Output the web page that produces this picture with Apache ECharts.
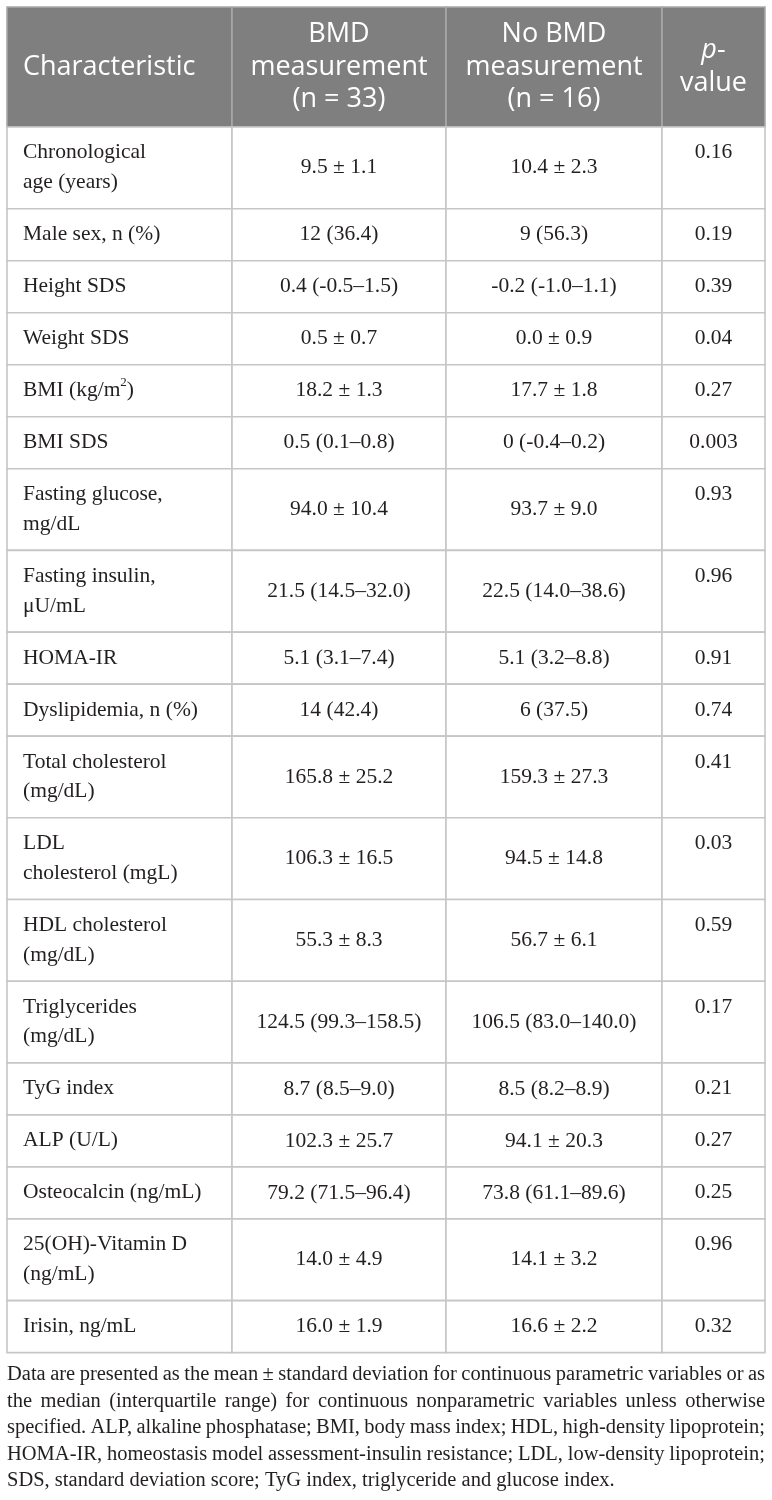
<!DOCTYPE html>
<html>
<head>
<meta charset="utf-8">
<script src="https://cdn.jsdelivr.net/npm/echarts@6/dist/echarts.min.js"></script>
<style>
html,body{margin:0;padding:0;background:#ffffff;}
#chart{width:772px;height:1500px;}
</style>
</head>
<body>
<div id="chart"></div>
<script>
// ---------- DATA ----------
const headers = ["Characteristic", "BMD\nmeasurement\n(n = 33)", "No BMD\nmeasurement\n(n = 16)", "{i|p}-\nvalue"];
const characteristics = [
  "Chronological\nage (years)",
  "Male sex, n (%)",
  "Height SDS",
  "Weight SDS",
  "BMI (kg/m{sup|2})",
  "BMI SDS",
  "Fasting glucose,\nmg/dL",
  "Fasting insulin,\nμU/mL",
  "HOMA-IR",
  "Dyslipidemia, n (%)",
  "Total cholesterol\n(mg/dL)",
  "LDL\ncholesterol (mgL)",
  "HDL cholesterol\n(mg/dL)",
  "Triglycerides\n(mg/dL)",
  "TyG index",
  "ALP (U/L)",
  "Osteocalcin (ng/mL)",
  "25(OH)-Vitamin D\n(ng/mL)",
  "Irisin, ng/mL"
];
const bmdValues = [
  "9.5 ± 1.1", "12 (36.4)", "0.4 (-0.5–1.5)", "0.5 ± 0.7", "18.2 ± 1.3", "0.5 (0.1–0.8)",
  "94.0 ± 10.4", "21.5 (14.5–32.0)", "5.1 (3.1–7.4)", "14 (42.4)", "165.8 ± 25.2",
  "106.3 ± 16.5", "55.3 ± 8.3", "124.5 (99.3–158.5)", "8.7 (8.5–9.0)", "102.3 ± 25.7",
  "79.2 (71.5–96.4)", "14.0 ± 4.9", "16.0 ± 1.9"
];
const noBmdValues = [
  "10.4 ± 2.3", "9 (56.3)", "-0.2 (-1.0–1.1)", "0.0 ± 0.9", "17.7 ± 1.8", "0 (-0.4–0.2)",
  "93.7 ± 9.0", "22.5 (14.0–38.6)", "5.1 (3.2–8.8)", "6 (37.5)", "159.3 ± 27.3",
  "94.5 ± 14.8", "56.7 ± 6.1", "106.5 (83.0–140.0)", "8.5 (8.2–8.9)", "94.1 ± 20.3",
  "73.8 (61.1–89.6)", "14.1 ± 3.2", "16.6 ± 2.2"
];
const pValues = [
  "0.16", "0.19", "0.39", "0.04", "0.27", "0.003", "0.93", "0.96", "0.91", "0.74",
  "0.41", "0.03", "0.59", "0.17", "0.21", "0.27", "0.25", "0.96", "0.32"
];
const footnoteLines = [
  "Data are presented as the mean ± standard deviation for continuous parametric variables or as",
  "the median (interquartile range) for continuous nonparametric variables unless otherwise",
  "specified. ALP, alkaline phosphatase; BMI, body mass index; HDL, high-density lipoprotein;",
  "HOMA-IR, homeostasis model assessment-insulin resistance; LDL, low-density lipoprotein;",
  "SDS, standard deviation score; TyG index, triglyceride and glucose index."
];

// ---------- LAYOUT / STYLE ----------
const TABLE_W = 758;
const colEdges = [0, 225, 439, 655, TABLE_W];
const HEADER_H = 120;
const ROW_PAD = 22.3;
const LINE_H = 29.7;
const HEAD_LINE_H = 32.5;
const HEAD_BG = '#7f7f7f';
const HEAD_STROKE = '#a9a9a9';
const BORDER = '#c6c6c6';
const TEXT = '#231f20';
const SERIF = '"Liberation Serif", "Times New Roman", serif';
const SANS = '"Open Sans", "Noto Sans", sans-serif';
const BODY_SIZE = 21.5;
const HEAD_SIZE = 27;

const columns = [characteristics, bmdValues, noBmdValues, pValues];
const rowEdges = [0, HEADER_H];
characteristics.forEach(function (t) {
  const n = t.split('\n').length;
  rowEdges.push(rowEdges[rowEdges.length - 1] + ROW_PAD + LINE_H * n);
});
const TABLE_H = rowEdges[rowEdges.length - 1];

const cells = [];
for (let r = 0; r <= characteristics.length; r++) {
  for (let c = 0; c < 4; c++) cells.push([c, r]);
}

function cellText(r, c) {
  return r === 0 ? headers[c] : columns[c][r - 1];
}

function renderItem(params, api) {
  const c = api.value(0), r = api.value(1);
  const p0 = api.coord([colEdges[c], rowEdges[r]]);
  const p1 = api.coord([colEdges[c + 1], rowEdges[r + 1]]);
  const x0 = p0[0], y0 = p0[1], w = p1[0] - p0[0], h = p1[1] - p0[1];
  const head = r === 0;
  const txt = cellText(r, c);
  let tx, ty, align, va, style;
  if (head) {
    tx = c === 0 ? x0 + 16 : x0 + w / 2;
    ty = y0 + h / 2;
    align = c === 0 ? 'left' : 'center';
    va = 'middle';
    style = {
      text: txt, fill: '#ffffff', fontFamily: SANS, fontSize: HEAD_SIZE,
      lineHeight: HEAD_LINE_H, align: align, verticalAlign: va,
      rich: { i: { fontStyle: 'italic', fontFamily: SANS, fontSize: HEAD_SIZE, lineHeight: HEAD_LINE_H, fill: '#ffffff' } }
    };
  } else {
    if (c === 0) { tx = x0 + 16; ty = y0 + 11; align = 'left'; va = 'top'; }
    else if (c === 3) { tx = x0 + w / 2; ty = y0 + 11; align = 'center'; va = 'top'; }
    else { tx = x0 + w / 2; ty = y0 + h / 2; align = 'center'; va = 'middle'; }
    style = {
      text: txt, fill: TEXT, fontFamily: SERIF, fontSize: BODY_SIZE,
      lineHeight: LINE_H, align: align, verticalAlign: va,
      rich: { sup: { fontFamily: SERIF, fontSize: 13, verticalAlign: 'top', padding: [0, 0, 10, 0], lineHeight: LINE_H, fill: TEXT } }
    };
  }
  return {
    type: 'group',
    children: [
      { type: 'rect', shape: { x: x0, y: y0, width: w, height: h },
        style: { fill: head ? HEAD_BG : '#ffffff', stroke: head ? HEAD_STROKE : BORDER, lineWidth: 1.6 } },
      { type: 'text', x: tx, y: ty, style: style }
    ]
  };
}

// ---------- FOOTNOTE (justified) ----------
const FOOT_SIZE = 20.5;
const FOOT_FONT = FOOT_SIZE + 'px "Liberation Serif"';
const FOOT_TOP = 1375;
const FOOT_LINE = 26.4;
const FOOT_LEFT = 7;
const mctx = document.createElement('canvas').getContext('2d');
mctx.font = FOOT_FONT;
const spaceW = mctx.measureText(' ').width;
const lineWords = footnoteLines.map(function (l) { return l.split(' '); });
const lineWW = lineWords.map(function (ws) { return ws.map(function (w) { return mctx.measureText(w).width; }); });
let maxNat = 0;
lineWW.forEach(function (ww, i) {
  if (i === lineWW.length - 1) return;
  const nat = ww.reduce(function (a, b) { return a + b; }, 0) + spaceW * 0.7 * (ww.length - 1);
  if (nat > maxNat) maxNat = nat;
});
const sx = Math.min(1, TABLE_W / maxNat);
const footEls = [];
lineWords.forEach(function (ws, i) {
  const ww = lineWW[i];
  const sum = ww.reduce(function (a, b) { return a + b; }, 0) * sx;
  const last = i === lineWords.length - 1;
  const gap = last ? spaceW * sx : (TABLE_W - sum) / (ws.length - 1);
  let x = FOOT_LEFT;
  ws.forEach(function (w, k) {
    footEls.push({
      type: 'text', x: x, y: FOOT_TOP + i * FOOT_LINE, scaleX: sx, silent: true,
      style: { text: w, font: FOOT_FONT, fill: TEXT, verticalAlign: 'middle', align: 'left' }
    });
    x += ww[k] * sx + gap;
  });
});

// ---------- CHART ----------
const chart = echarts.init(document.getElementById('chart'), null, { renderer: 'canvas' });
chart.setOption({
  animation: false,
  backgroundColor: '#ffffff',
  grid: { left: 7, top: 7, width: TABLE_W, height: TABLE_H, containLabel: false },
  xAxis: { type: 'value', min: 0, max: TABLE_W, show: false },
  yAxis: { type: 'value', min: 0, max: TABLE_H, inverse: true, show: false },
  series: [{
    type: 'custom',
    coordinateSystem: 'cartesian2d',
    renderItem: renderItem,
    data: cells,
    silent: true,
    clip: false
  }],
  graphic: { elements: footEls }
});
</script>
</body>
</html>
